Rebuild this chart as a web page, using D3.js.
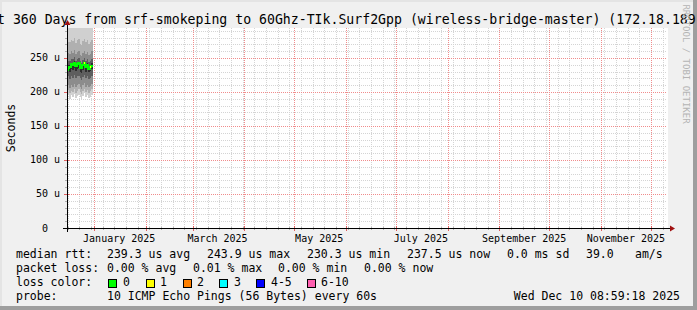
<!DOCTYPE html>
<html><head><meta charset="utf-8">
<script src="https://cdn.jsdelivr.net/npm/d3@7"></script>
<style>
body{margin:0;background:#f0f0f0;overflow:hidden}
svg{display:block}
text{font-family:"DejaVu Sans Mono",monospace;fill:#000}
</style>
</head><body>
<svg id="c" width="697" height="310"></svg>
<script>
// ---------------- data ----------------
const titleText = "Last 360 Days from srf-smokeping to 60Ghz-TIk.Surf2Gpp (wireless-bridge-master) (172.18.189";
const endTime = Date.UTC(2025, 11, 10, 8, 59, 18);
const spanDays = 360;
const sampleStepHours = 20.8;           // rrd consolidation step
const sampleCount = 18;
// sorted ping rtts per sample (microseconds)
const ping1  = [193,196,190,195,192,197,191,194,196,192,189,194,198,192,195,191,193,196];
const ping2  = [200,203,198,202,200,205,199,202,204,200,197,202,205,200,203,199,201,204];
const ping3  = [208,211,206,210,208,212,207,210,212,208,205,210,213,208,211,207,209,212];
const ping4  = [220,223,219,223,221,225,220,223,224,220,218,222,225,220,223,219,221,224];
const ping5  = [229,232,230,234,233,236,231,234,235,230,228,232,235,230,233,229,231,234];
const ping6  = [237,240,239,243,242,245,240,243,244,239,237,241,244,239,242,238,240,243];
const ping7  = [243,246,246,249,248,251,246,249,250,245,243,247,250,245,248,244,246,249];
const ping8  = [253,257,256,260,258,262,256,259,261,255,253,258,261,256,259,254,256,260];
const ping9  = [270,274,273,277,275,279,272,276,278,271,269,275,278,273,276,270,273,277];
const ping10 = [305,312,310,318,314,320,308,315,317,306,304,313,319,309,314,305,311,316];
const medianRtt = [232,235,237,241,240,242,238,241,243,236,235,239,242,237,240,234,237,237.5];
const lossCount = [0,0,0,0,0,0,0,0,0,0,0,0,1,0,0,0,1,0];

const yTicks = [0,50,100,150,200,250];
const yMax = 294.1;
const lossLabels = ["0","1","2","3","4-5","6-10"];
const lossColors = ["#00ff00","#ffff00","#ff8000","#00ffff","#0000ff","#ff60b0"];
const smokeColors = ["#d0d0d0","#b0b0b0","#8c8c8c","#5e5e5e","#2e2e2e"];

const statsRow1 = [["median rtt:",16],["239.3 us avg",107],["243.9 us max",207],["230.3 us min",307],["237.5 us now",407],["0.0 ms sd",507],["39.0",586],["am/s",635]];
const statsRow2 = [["packet loss:",16],["0.00 % avg",107],["0.01 % max",193],["0.00 % min",278],["0.00 % now",364]];
const probeText = "10 ICMP Echo Pings (56 Bytes) every 60s";
const stampText = "Wed Dec 10 08:59:18 2025";

// ---------------- layout ----------------
const W=697,H=310;
const X0=67,X1=667,Y0=228,Y1=28;
const svg=d3.select("#c");
const startTime = endTime - spanDays*86400000;
const x=d3.scaleUtc().domain([new Date(startTime),new Date(endTime)]).range([X0-0.5,X1-0.5]);
const y=d3.scaleLinear().domain([0,yMax]).range([Y0,Y1]);

// frame
svg.append("rect").attr("width",W).attr("height",H).attr("fill","#f0f0f0");
svg.append("rect").attr("x",0).attr("y",0).attr("width",W).attr("height",2).attr("fill","#e4e4e4");
svg.append("rect").attr("x",0).attr("y",0).attr("width",2).attr("height",H).attr("fill","#e4e4e4");
svg.append("rect").attr("x",W-4).attr("y",0).attr("width",4).attr("height",H).attr("fill","#9e9e9e");
svg.append("rect").attr("x",0).attr("y",H-4).attr("width",W).attr("height",4).attr("fill","#9e9e9e");
// canvas
svg.append("rect").attr("x",X0).attr("y",Y1).attr("width",X1-X0+1).attr("height",Y0-Y1).attr("fill","#fff");

// title
svg.append("text").attr("x",-26.8).attr("y",24).style("font-size","13.2px").text(titleText);

// grid
const g=svg.append("g").attr("shape-rendering","crispEdges");
const weeks=d3.utcMonday.range(new Date(startTime),new Date(endTime));
const months=d3.utcMonth.range(new Date(startTime),new Date(endTime));
weeks.forEach(d=>{const px=Math.round(x(d))+0.5;
  g.append("line").attr("x1",px).attr("x2",px).attr("y1",Y1).attr("y2",Y0).attr("stroke","#d4d4d4").attr("stroke-dasharray","1,1");
  g.append("line").attr("x1",px).attr("x2",px).attr("y1",Y0-1).attr("y2",Y0+2).attr("stroke","#b0b0b0");});
d3.range(10,yMax,10).filter(v=>v%50!==0).forEach(v=>{const py=Math.round(y(v))+0.5;
  g.append("line").attr("x1",X0).attr("x2",X1).attr("y1",py).attr("y2",py).attr("stroke","#d4d4d4").attr("stroke-dasharray","1,1");
  g.append("line").attr("x1",X0-2).attr("x2",X0+1).attr("y1",py).attr("y2",py).attr("stroke","#b0b0b0");});
months.forEach(d=>{const px=Math.round(x(d))+0.5;
  g.append("line").attr("x1",px).attr("x2",px).attr("y1",Y1).attr("y2",Y0).attr("stroke","#f08c8c").attr("stroke-dasharray","1,1");
  g.append("line").attr("x1",px).attr("x2",px).attr("y1",Y0-2).attr("y2",Y0+3).attr("stroke","#e06060");});
yTicks.filter(v=>v>0).forEach(v=>{const py=Math.round(y(v))+0.5;
  g.append("line").attr("x1",X0).attr("x2",X1).attr("y1",py).attr("y2",py).attr("stroke","#f08c8c").attr("stroke-dasharray","1,1");
  g.append("line").attr("x1",X0-3).attr("x2",X0+2).attr("y1",py).attr("y2",py).attr("stroke","#e06060");});

// data
const stepMs=sampleStepHours*3600000;
const times=d3.range(sampleCount).map(i=>new Date(startTime+i*stepMs));
const pings=[ping1,ping2,ping3,ping4,ping5,ping6,ping7,ping8,ping9,ping10];
svg.append("clipPath").attr("id","clp").append("rect").attr("x",X0).attr("y",Y1).attr("width",X1-X0).attr("height",Y0-Y1);
const dg=svg.append("g").attr("clip-path","url(#clp)").attr("shape-rendering","crispEdges");
const ext=i=>i<sampleCount?times[i]:new Date(startTime+sampleCount*stepMs);
for(let k=0;k<9;k++){
  const lo=pings[k],hi=pings[k+1];
  const lvl=Math.min(k,8-k);
  const pts=d3.range(sampleCount+1).map(i=>({t:ext(i),a:lo[Math.min(i,sampleCount-1)],b:hi[Math.min(i,sampleCount-1)]}));
  dg.append("path").attr("d",d3.area().curve(d3.curveStepAfter).x(p=>x(p.t)).y0(p=>y(p.a)).y1(p=>y(p.b))(pts))
    .attr("fill",smokeColors[lvl]);
}
// median line
const mpts=d3.range(sampleCount+1).map(i=>({t:ext(i),v:medianRtt[Math.min(i,sampleCount-1)]}));
dg.append("path").attr("d",d3.line().curve(d3.curveStepAfter).x(p=>x(p.t)).y(p=>y(p.v))(mpts))
  .attr("fill","none").attr("stroke",lossColors[0]).attr("stroke-width",2);
lossCount.forEach((l,i)=>{ if(l>0){
  const c=lossColors[l>=6?5:l>=4?4:l];
  dg.append("line").attr("x1",x(times[i])).attr("x2",x(ext(i+1))).attr("y1",y(medianRtt[i])).attr("y2",y(medianRtt[i]))
    .attr("stroke",c).attr("stroke-width",2);
}});

// axes
const ax=svg.append("g").attr("shape-rendering","crispEdges");
ax.append("line").attr("x1",X0-4).attr("x2",X1+4).attr("y1",Y0+0.5).attr("y2",Y0+0.5).attr("stroke","#000");
ax.append("line").attr("x1",X0+0.5).attr("x2",X0+0.5).attr("y1",Y0+4).attr("y2",Y1-4).attr("stroke","#000");
svg.append("path").attr("d",`M${X1+3},${Y0-2.5}L${X1+8},${Y0+0.5}L${X1+3},${Y0+3.5}Z`).attr("fill","#a01010");
svg.append("path").attr("d",`M${X0-2.5},${Y1-3}L${X0+0.5},${Y1-8}L${X0+3.5},${Y1-3}Z`).attr("fill","#a01010");

// y labels
yTicks.forEach(v=>{
  svg.append("text").attr("x",v===0?48:60).attr("y",y(v)+3.5).attr("text-anchor","end").style("font-size","10px")
    .text(v===0?"0":v+" u");
});
svg.append("text").attr("transform","translate(14.5,128) rotate(-90)").attr("text-anchor","middle").style("font-size","11.5px").text("Seconds");

// x labels
d3.utcMonth.every(2).range(new Date(startTime),new Date(endTime)).forEach(d=>{
  const c=d3.utcDay.offset(d,15);
  svg.append("text").attr("x",x(c)).attr("y",242).attr("text-anchor","middle").style("font-size","10px")
    .text(d3.utcFormat("%B %Y")(d));
});

// watermark
svg.append("text").attr("transform","translate(683,64) rotate(90)").attr("text-anchor","middle")
  .style("font-size","9px").style("fill","#b4b4b4").text("RRDTOOL / TOBI OETIKER");

// legend
const lf="11.5px";
statsRow1.forEach(([t,px])=>svg.append("text").attr("x",px).attr("y",258).style("font-size",lf).text(t));
statsRow2.forEach(([t,px])=>svg.append("text").attr("x",px).attr("y",272).style("font-size",lf).text(t));
svg.append("text").attr("x",16).attr("y",286).style("font-size",lf).text("loss color:");
const swX=[108,146,183,219,256,307], lbX=[123,160,197,234,271,321];
lossLabels.forEach((l,i)=>{
  svg.append("rect").attr("x",swX[i]+0.5).attr("y",279.5).attr("width",8).attr("height",8).attr("fill",lossColors[i]).attr("stroke","#000").attr("shape-rendering","crispEdges");
  svg.append("text").attr("x",lbX[i]).attr("y",286).style("font-size",lf).text(l);
});
svg.append("text").attr("x",16).attr("y",300).style("font-size",lf).text("probe:");
svg.append("text").attr("x",107).attr("y",300).style("font-size",lf).text(probeText);
svg.append("text").attr("x",680).attr("y",300).attr("text-anchor","end").style("font-size",lf).text(stampText);
</script>
</body></html>
